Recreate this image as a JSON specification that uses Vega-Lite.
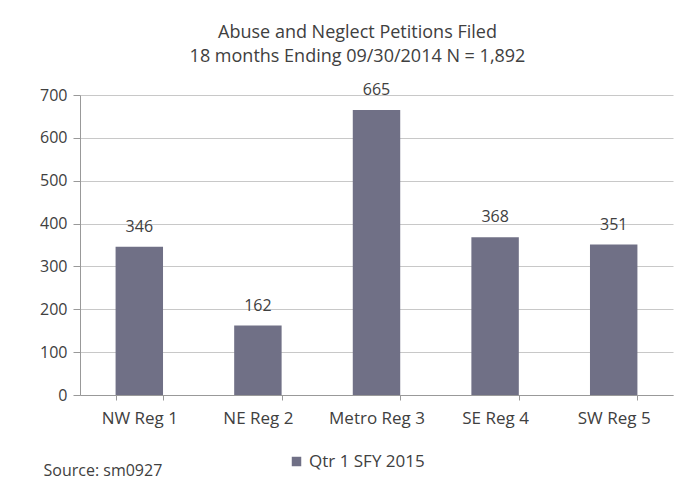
{
  "$schema": "https://vega.github.io/schema/vega-lite/v6.json",
  "width": 593,
  "height": 300,
  "autosize": {"type": "none"},
  "padding": {"left": 80, "top": 95, "right": 12, "bottom": 98},
  "background": "white",
  "title": {
    "text": ["Abuse and Neglect Petitions Filed", "18 months Ending 09/30/2014  N = 1,892"],
    "anchor": "middle",
    "dx": -19,
    "offset": 16,
    "font": "Open Sans",
    "fontSize": 18,
    "fontWeight": "normal",
    "color": "#404040",
    "lineHeight": 24
  },
  "data": {
    "values": [
      {"region": "NW Reg 1", "petitions": 346, "series": "Qtr 1 SFY 2015"},
      {"region": "NE Reg 2", "petitions": 162, "series": "Qtr 1 SFY 2015"},
      {"region": "Metro Reg 3", "petitions": 665, "series": "Qtr 1 SFY 2015"},
      {"region": "SE Reg 4", "petitions": 368, "series": "Qtr 1 SFY 2015"},
      {"region": "SW Reg 5", "petitions": 351, "series": "Qtr 1 SFY 2015"}
    ]
  },
  "encoding": {
    "x": {
      "field": "region",
      "type": "nominal",
      "sort": null,
      "scale": {"paddingInner": 0.6, "paddingOuter": 0.3},
      "axis": {
        "title": "Source: sm0927",
        "titleAnchor": "start",
        "titleAlign": "left",
        "titleX": -37,
        "titleY": 75,
        "titleBaseline": "middle",
        "titleFont": "Open Sans",
        "titleFontSize": 16,
        "titleFontWeight": "normal",
        "titleColor": "#404040",
        "labelAngle": 0,
        "tickBand": "extent",
        "tickSize": 5,
        "tickColor": "#999999",
        "domainColor": "#999999",
        "labelPadding": 10,
        "labelFont": "Open Sans",
        "labelFontSize": 17,
        "labelColor": "#404040"
      }
    },
    "y": {
      "field": "petitions",
      "type": "quantitative",
      "scale": {"domain": [0, 700]},
      "axis": {
        "title": null,
        "values": [0, 100, 200, 300, 400, 500, 600, 700],
        "tickSize": 7,
        "tickColor": "#999999",
        "domainColor": "#999999",
        "gridColor": "#c8c8c8",
        "labelPadding": 6,
        "labelFont": "Open Sans",
        "labelFontSize": 16,
        "labelColor": "#404040"
      }
    }
  },
  "layer": [
    {
      "mark": {"type": "bar"},
      "encoding": {
        "color": {
          "field": "series",
          "type": "nominal",
          "scale": {"range": ["#707086"]},
          "legend": {
            "title": null,
            "orient": "none",
            "legendX": 208,
            "legendY": 358,
            "symbolType": "square",
            "symbolSize": 90,
            "labelFont": "Open Sans",
            "labelFontSize": 17,
            "labelColor": "#404040"
          }
        }
      }
    },
    {
      "mark": {"type": "text", "baseline": "alphabetic", "dy": -15, "font": "Open Sans", "fontSize": 16, "color": "#404040"},
      "encoding": {"text": {"field": "petitions", "type": "quantitative"}}
    }
  ],
  "config": {"view": {"stroke": null}}
}
